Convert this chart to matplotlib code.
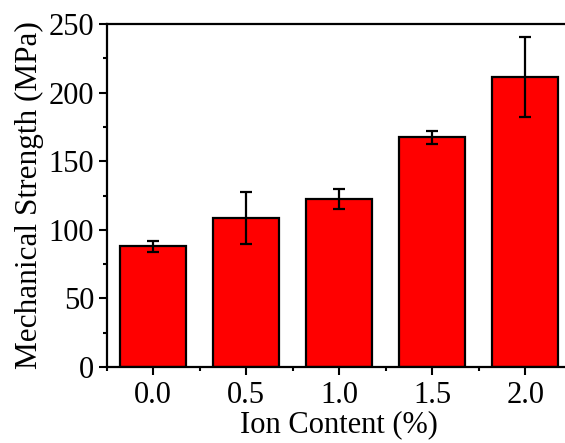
import numpy as np
import matplotlib.pyplot as plt
from matplotlib.ticker import MultipleLocator

# Ion content vs mechanical strength
ion_content = [0.0, 0.5, 1.0, 1.5, 2.0]
strength = [88, 108.5, 122.5, 167.5, 211.5]
strength_err = [4, 19, 7.5, 4.7, 29]
tick_labels = ["0.0", "0.5", "1.0", "1.5", "2.0"]

plt.rcParams['font.family'] = ['Liberation Serif', 'DejaVu Serif']

fig = plt.figure(figsize=(5.65, 4.43), dpi=100)
ax = fig.add_axes([0.189, 0.1716, 0.823, 0.774])

ax.bar(ion_content, strength, width=0.355, color="#ff0000",
       edgecolor="black", linewidth=1.6)
ax.errorbar(ion_content, strength, yerr=strength_err, fmt="none",
            ecolor="black", elinewidth=1.6, capsize=4, capthick=1.6)

ax.set_xlim(-0.25, 2.25)
ax.set_ylim(0, 250)
ax.set_xticks(ion_content)
ax.set_xticklabels(tick_labels)
ax.xaxis.set_minor_locator(MultipleLocator(0.25))
ax.yaxis.set_major_locator(MultipleLocator(50))
ax.yaxis.set_minor_locator(MultipleLocator(25))

ax.tick_params(which="major", direction="out", length=6, width=1.5,
               labelsize=22)
ax.tick_params(axis="x", which="major", pad=4)
ax.tick_params(axis="y", which="major", pad=3)
ax.tick_params(which="minor", direction="out", length=3, width=1.5)

for sp in ax.spines.values():
    sp.set_linewidth(1.6)
ax.spines["right"].set_visible(False)

ax.set_xlabel("Ion Content (%)", fontsize=22, labelpad=0)
ax.set_ylabel("Mechanical Strength (MPa)", fontsize=22.5, labelpad=3)

fig.savefig("out.png", dpi=100)
